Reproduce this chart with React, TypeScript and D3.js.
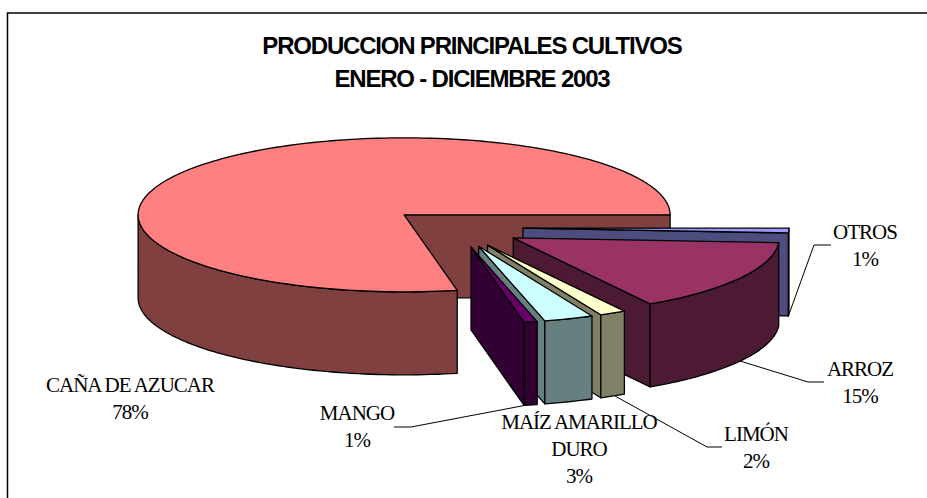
import React from "react";
import * as d3 from "d3";

const categories = ["OTROS", "ARROZ", "LIMÓN", "MAÍZ AMARILLO DURO", "MANGO", "CAÑA DE AZUCAR"];
const shares = [1, 15.4, 1.6, 3, 0.8, 78.2];
const topColors = ["#9999FF", "#993366", "#FFFFCC", "#CCFFFF", "#660066", "#FF8080"];
const sideColors = ["#4D4D80", "#4D1A33", "#808066", "#668080", "#330033", "#804040"];
const paintOrder = [5, 0, 1, 2, 3, 4];
const titleLines = ["PRODUCCION PRINCIPALES CULTIVOS", "ENERO - DICIEMBRE 2003"];
const labelBlocks = [
  { lines: ["OTROS", "1%"], x: 865, y: 239 },
  { lines: ["ARROZ", "15%"], x: 860, y: 376 },
  { lines: ["LIMÓN", "2%"], x: 756, y: 441 },
  { lines: ["MAÍZ AMARILLO", "DURO", "3%"], x: 579, y: 429 },
  { lines: ["MANGO", "1%"], x: 357, y: 420 },
  { lines: ["CAÑA DE AZUCAR", "78%"], x: 130, y: 392 },
];
const leaders = [
  [[788, 317], [814, 245], [831, 245]],
  [[740, 361], [808, 382], [824, 382]],
  [[615, 396], [707, 447], [722, 447]],
  [[527, 405], [411, 427], [394, 427]],
];

const cx = 456, cy = 227.5, rx = 266, ry = 77, depth = 83, explodeX = 67, explodeY = 20;

export default function App() {
  const arcs = d3.pie<number>().sort(null).startAngle(Math.PI / 2).endAngle(Math.PI / 2 + 2 * Math.PI)(shares);
  const line = d3.line();
  const slices = paintOrder.map((i) => {
    const a = arcs[i];
    const mid = (a.startAngle + a.endAngle) / 2;
    const ox = cx + explodeX * Math.sin(mid);
    const oy = cy - explodeY * Math.cos(mid);
    const pt = (t: number, dz = 0): [number, number] => [ox + rx * Math.sin(t), oy - ry * Math.cos(t) + dz];
    const steps = Math.max(4, Math.ceil((a.endAngle - a.startAngle) * 40));
    const rim = d3.range(steps + 1).map((k) => pt(a.startAngle + ((a.endAngle - a.startAngle) * k) / steps));
    const top = line([[ox, oy], ...rim])! + "Z";
    const faces: string[] = [];
    const face = (t: number) => line([[ox, oy], pt(t), pt(t, depth), [ox, oy + depth]])! + "Z";
    if (Math.sin(a.startAngle) < 0) faces.push(face(a.startAngle));
    if (Math.sin(a.endAngle) > 0) faces.push(face(a.endAngle));
    const lo = Math.max(a.startAngle, Math.PI / 2);
    const hi = Math.min(a.endAngle, (3 * Math.PI) / 2);
    let wall = "";
    if (hi > lo) {
      const n = Math.ceil((hi - lo) * 40);
      const upper = d3.range(n + 1).map((k) => pt(lo + ((hi - lo) * k) / n));
      const lower = upper.map(([x, y]) => [x, y + depth] as [number, number]).reverse();
      wall = line([...upper, ...lower])! + "Z";
    }
    return { i, top, faces, wall };
  });
  return (
    <svg width={927} height={498} style={{ position: "absolute", left: 0, top: 0, background: "#fff" }}>
      <rect x={7.5} y={13} width={930} height={500} fill="#fff" stroke="#000" strokeWidth={1.5} />
      {titleLines.map((t, k) => (
        <text key={t} x={472} y={54 + k * 33} textAnchor="middle" fontFamily="Liberation Sans" fontWeight={700} fontSize={24} letterSpacing={-1.2} fill="#000">
          {t}
        </text>
      ))}
      {slices.map((s) => (
        <g key={categories[s.i]} stroke="#000" strokeWidth={1.3} strokeLinejoin="round">
          {s.faces.map((d, k) => (
            <path key={k} d={d} fill={sideColors[s.i]} />
          ))}
          {s.wall && <path d={s.wall} fill={sideColors[s.i]} />}
          <path d={s.top} fill={topColors[s.i]} />
        </g>
      ))}
      {leaders.map((l, k) => (
        <path key={k} d={line(l as [number, number][])!} fill="none" stroke="#000" strokeWidth={1} />
      ))}
      {labelBlocks.map((b) => (
        <text key={b.lines[0]} textAnchor="middle" fontFamily="Liberation Serif" fontSize={21} letterSpacing={-1} fill="#000">
          {b.lines.map((t, k) => (
            <tspan key={t} x={b.x} y={b.y + k * 27}>
              {t}
            </tspan>
          ))}
        </text>
      ))}
    </svg>
  );
}
